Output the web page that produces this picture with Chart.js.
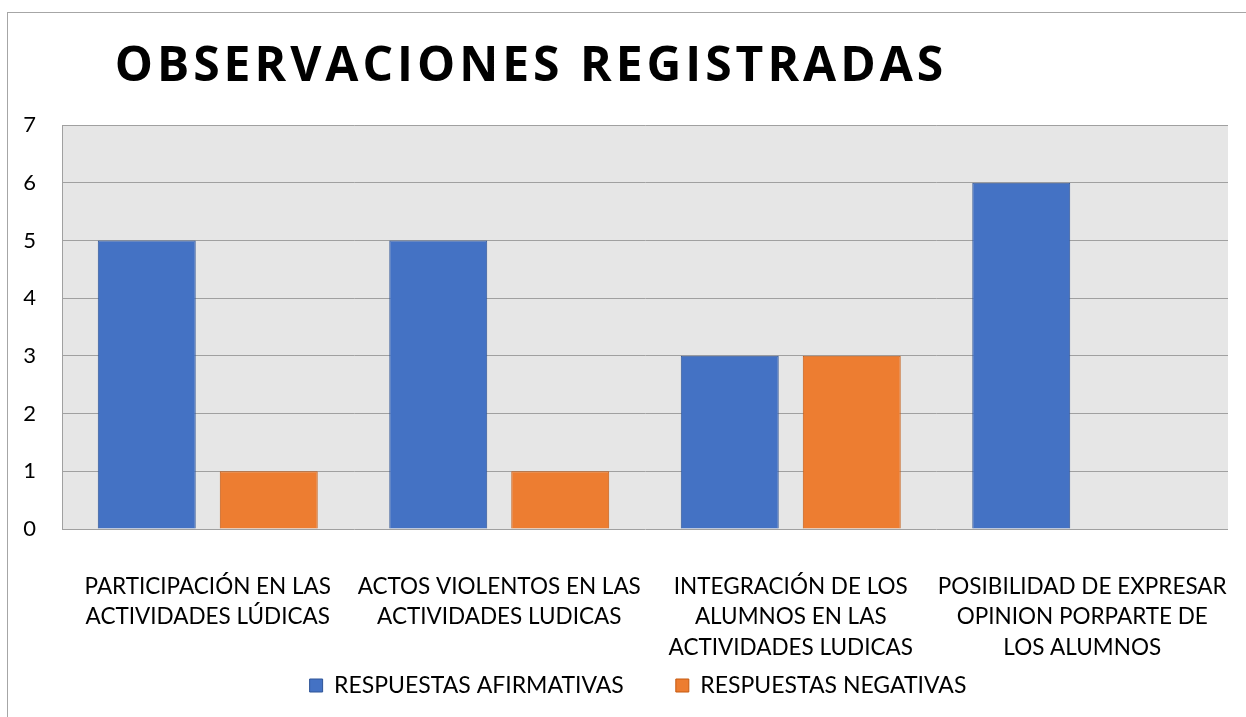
<!DOCTYPE html>
<html>
<head>
<meta charset="utf-8">
<script src="https://cdn.jsdelivr.net/npm/chart.js@4"></script>
<style>
  html, body { margin: 0; padding: 0; background: #fff; }
  #wrap { position: relative; width: 1246px; height: 717px; overflow: hidden; }
  #frame { position: absolute; left: 7px; top: 12px; width: 1300px; height: 800px; border: 1px solid #a6a6a6; pointer-events: none; }
  #title { position: absolute; left: 1px; top: 33px; width: 1060px; text-align: center; font: bold 48px "Open Sans", Lato, sans-serif; letter-spacing: 4px; color: #000; line-height: 60px; }
  canvas { position: absolute; left: 0; top: 0; }
</style>
</head>
<body>
<div id="wrap">
  <div id="frame"></div>
  <canvas id="chart" width="1246" height="717"></canvas>
  <div id="title">OBSERVACIONES REGISTRADAS</div>
</div>
<script>
const categories = [
    ["PARTICIPACIÓN EN LAS", "ACTIVIDADES LÚDICAS"],
    ["ACTOS VIOLENTOS EN LAS", "ACTIVIDADES LUDICAS"],
    ["INTEGRACIÓN DE LOS", "ALUMNOS EN LAS", "ACTIVIDADES LUDICAS"],
    ["POSIBILIDAD DE EXPRESAR", "OPINION PORPARTE DE", "LOS ALUMNOS"]
];
const afirmativas = [5, 5, 3, 6];
const negativas = [1, 1, 3, 0];
const yTicks = [0, 1, 2, 3, 4, 5, 6, 7];

const FONT = "Lato, 'Open Sans', sans-serif";

// grey plot background, like the spreadsheet chart
const plotBg = {
    id: "plotBg",
    beforeDraw(chart) {
        const { ctx, chartArea: a } = chart;
        ctx.save();
        ctx.fillStyle = "#e6e6e6";
        ctx.fillRect(a.left, a.top, a.right - a.left, a.bottom - a.top);
        ctx.restore();
    }
};

const ctx = document.getElementById("chart").getContext("2d");
new Chart(ctx, {
    type: "bar",
    data: {
        labels: categories,
        datasets: [
            {
                label: "RESPUESTAS AFIRMATIVAS",
                data: afirmativas,
                backgroundColor: "#4472c4",
                borderColor: "#2f5597",
                borderWidth: 1
            },
            {
                label: "RESPUESTAS NEGATIVAS",
                data: negativas,
                backgroundColor: "#ed7d31",
                borderColor: "#c55a11",
                borderWidth: 1
            }
        ]
    },
    options: {
        responsive: false,
        animation: false,
        categoryPercentage: 0.837,
        barPercentage: 0.803,
        // left 30 / right 0 keeps the legend centred where the original has it
        layout: { padding: { left: 30, right: 0, top: 125, bottom: 10 } },
        scales: {
            x: {
                grid: { display: false },
                border: { display: false },
                ticks: { color: "#000", font: { family: FONT, size: 22.5, lineHeight: 1.34 }, padding: 35, maxRotation: 0, autoSkip: false },
                // labels hang into the legend band; keep the plot wide and don't clip them
                afterFit(scale) {
                    scale.paddingLeft = 0;
                    scale.paddingRight = 18;
                    scale.height = 93;
                    scale._computeLabelArea = () => undefined;
                }
            },
            y: {
                min: 0,
                max: 7,
                afterBuildTicks(axis) { axis.ticks = yTicks.map(v => ({ value: v })); },
                afterFit(scale) {
                    scale.width = 32;
                    scale._computeLabelArea = () => undefined;
                },
                grid: { color: "#a0a0a0", lineWidth: 1, drawTicks: false },
                border: { display: true, color: "#a0a0a0" },
                ticks: { color: "#000", font: { family: FONT, size: 22 }, padding: 26 }
            }
        },
        plugins: {
            legend: {
                position: "bottom",
                labels: {
                    color: "#000",
                    font: { family: FONT, size: 23 },
                    boxWidth: 13,
                    boxHeight: 13,
                    padding: 52
                }
            },
            tooltip: { enabled: false }
        }
    },
    plugins: [plotBg]
});
</script>
</body>
</html>
